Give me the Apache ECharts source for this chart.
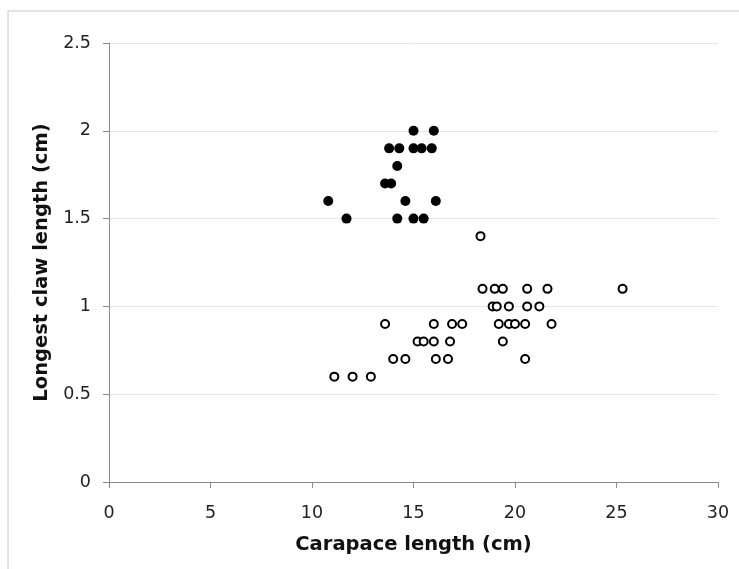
<!DOCTYPE html>
<html>
<head>
<meta charset="utf-8">
<script src="https://cdn.jsdelivr.net/npm/echarts@6/dist/echarts.min.js"></script>
<style>
  html, body { margin: 0; padding: 0; background: #fff; }
  #chart { width: 739px; height: 569px; }
</style>
</head>
<body>
<div id="chart"></div>
<script>
// Crabs with large claws (filled markers)
const largeClawCarapace = [15, 16, 13.8, 14.3, 15, 15.4, 15.9, 14.2, 13.6, 13.9, 10.8, 14.6, 16.1, 11.7, 14.2, 15, 15.5];
const largeClawLength   = [2, 2, 1.9, 1.9, 1.9, 1.9, 1.9, 1.8, 1.7, 1.7, 1.6, 1.6, 1.6, 1.5, 1.5, 1.5, 1.5];

// Crabs with small claws (open markers)
const smallClawCarapace = [
  18.3,
  18.4, 19.0, 19.4, 20.6, 21.6, 25.3,
  18.9, 19.1, 19.7, 20.6, 21.2,
  13.6, 16.0, 16.9, 17.4, 19.2, 19.7, 20.0, 20.5, 21.8,
  15.2, 15.5, 16.0, 16.8, 19.4,
  14.0, 14.6, 16.1, 16.7, 20.5,
  11.1, 12.0, 12.9
];
const smallClawLength = [
  1.4,
  1.1, 1.1, 1.1, 1.1, 1.1, 1.1,
  1.0, 1.0, 1.0, 1.0, 1.0,
  0.9, 0.9, 0.9, 0.9, 0.9, 0.9, 0.9, 0.9, 0.9,
  0.8, 0.8, 0.8, 0.8, 0.8,
  0.7, 0.7, 0.7, 0.7, 0.7,
  0.6, 0.6, 0.6
];

const xTitle = 'Carapace length (cm)';
const yTitle = 'Longest claw length (cm)';

const pairs = (xs, ys) => xs.map((x, i) => [x, ys[i]]);

const FONT = '"DejaVu Sans", Verdana, sans-serif';

const chart = echarts.init(document.getElementById('chart'), null, { renderer: 'canvas' });
chart.setOption({
  animation: false,
  backgroundColor: '#ffffff',
  graphic: [{
    type: 'rect',
    shape: { x: 8, y: 11, width: 740, height: 570 },
    style: { fill: 'none', stroke: '#c8c8c8', lineWidth: 1 },
    silent: true
  }],
  grid: { left: 109, right: 21, top: 43, bottom: 87 },
  xAxis: {
    type: 'value',
    min: 0, max: 30, interval: 5,
    name: xTitle,
    nameLocation: 'middle',
    nameGap: 53,
    nameTextStyle: { fontFamily: FONT, fontSize: 19.5, fontWeight: 'bold', color: '#111' },
    axisLine: { show: true, onZero: false, lineStyle: { color: '#8a8a8a', width: 1 } },
    axisTick: { show: true, length: 6, lineStyle: { color: '#8a8a8a' } },
    axisLabel: { fontFamily: FONT, fontSize: 17.5, color: '#222', margin: 22 },
    splitLine: { show: false }
  },
  yAxis: {
    type: 'value',
    min: 0, max: 2.5, interval: 0.5,
    name: yTitle,
    nameLocation: 'middle',
    nameGap: 57,
    nameRotate: 90,
    nameTextStyle: { fontFamily: FONT, fontSize: 19.5, fontWeight: 'bold', color: '#111' },
    axisLine: { show: true, onZero: false, lineStyle: { color: '#8a8a8a', width: 1 } },
    axisTick: { show: true, length: 6, lineStyle: { color: '#8a8a8a' } },
    axisLabel: { fontFamily: FONT, fontSize: 17.5, color: '#222', margin: 18 },
    splitLine: { show: true, lineStyle: { color: '#e6e6e6', width: 1 } }
  },
  series: [
    {
      name: 'large claw',
      type: 'scatter',
      symbol: 'circle',
      symbolSize: 10,
      itemStyle: { color: '#000000', opacity: 1 },
      data: pairs(largeClawCarapace, largeClawLength)
    },
    {
      name: 'small claw',
      type: 'scatter',
      symbol: 'circle',
      symbolSize: 8,
      itemStyle: { color: '#ffffff', borderColor: '#000000', borderWidth: 2, opacity: 1 },
      data: pairs(smallClawCarapace, smallClawLength)
    }
  ]
});
</script>
</body>
</html>
